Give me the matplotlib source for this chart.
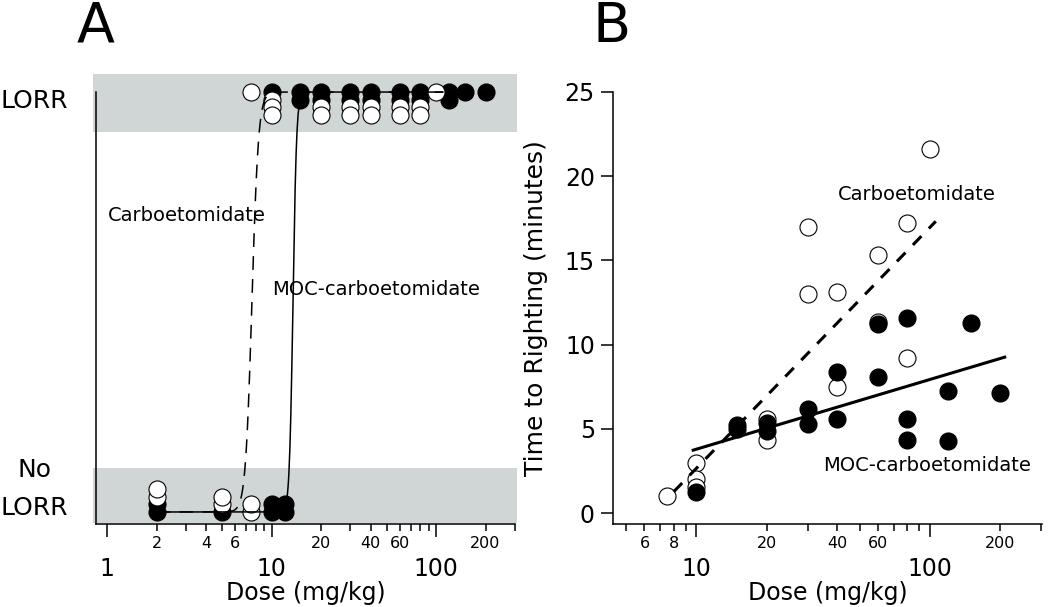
import numpy as np
import matplotlib
matplotlib.use("Agg")
import matplotlib.pyplot as plt
from matplotlib.ticker import FixedLocator, FixedFormatter

plt.rcParams['font.family'] = ['DejaVu Sans']

# ---- Panel A: LORR (1) / No LORR (0), stack = position in the pile of circles
carbo_a_dose = [2, 2, 5, 5, 7.5, 7.5, 7.5, 10, 10, 10, 20, 20, 30, 30, 40, 40, 60, 60, 80, 80, 100]
carbo_a_resp = [0, 0, 0, 0, 0, 0, 1, 1, 1, 1, 1, 1, 1, 1, 1, 1, 1, 1, 1, 1, 1]
carbo_a_stack = [2, 3, 1, 2, 0, 1, 0, 1, 2, 3, 2, 3, 2, 3, 2, 3, 2, 3, 2, 3, 0]

moc_a_dose = [2, 2, 5, 10, 10, 12, 12, 10, 15, 15, 20, 20, 30, 30, 40, 40, 60, 60, 80, 80, 120, 120, 150, 200]
moc_a_resp = [0, 0, 0, 0, 0, 0, 0, 1, 1, 1, 1, 1, 1, 1, 1, 1, 1, 1, 1, 1, 1, 1, 1, 1]
moc_a_stack = [0, 1, 0, 0, 1, 0, 1, 0, 0, 1, 0, 1, 0, 1, 0, 1, 0, 1, 0, 1, 0, 1, 0, 0]

# fitted dose-response (Hill) parameters
carbo_ec50, carbo_hill = 7.6, 22
moc_ec50, moc_hill = 13.5, 40
fit_dose_range = (2, 110)

# ---- Panel B: time to righting (minutes)
carbo_b_dose = [7.5, 10, 10, 10, 20, 20, 30, 30, 40, 40, 60, 60, 80, 80, 100]
carbo_b_time = [1.0, 3.0, 2.05, 1.55, 5.6, 4.35, 17.0, 13.0, 13.15, 7.5, 15.3, 11.35, 17.2, 9.2, 21.6]

moc_b_dose = [10, 15, 15, 20, 20, 30, 30, 40, 40, 60, 60, 80, 80, 80, 120, 120, 150, 200]
moc_b_time = [1.25, 5.2, 5.0, 5.35, 4.9, 6.2, 5.3, 8.4, 5.6, 11.2, 8.1, 11.6, 5.6, 4.35, 7.25, 4.3, 11.3, 7.15]

# regression lines: time = a + b*log10(dose)
carbo_fit = (-11.66, 14.31, 8.0, 106)
moc_fit = (-0.35, 4.14, 9.7, 209)

STACK = 0.018
MS = 150

fig = plt.figure(figsize=(10.5, 6.07), dpi=100)
axA = fig.add_axes([96 / 1050, 83 / 607, 419 / 1050, 450 / 607])
axB = fig.add_axes([613 / 1050, 83 / 607, 429 / 1050, 432 / 607])

minor_all = [2, 3, 4, 5, 6, 7, 8, 9, 20, 30, 40, 50, 60, 70, 80, 90, 200, 300]
minor_lab = {2: '2', 4: '4', 6: '6', 8: '8', 20: '20', 40: '40', 60: '60', 200: '200'}


def style_xaxis(ax, labelled):
    ax.set_xscale('log')
    ax.xaxis.set_major_locator(FixedLocator([1, 10, 100]))
    ax.xaxis.set_major_formatter(FixedFormatter(['1', '10', '100']))
    ax.xaxis.set_minor_locator(FixedLocator(minor_all))
    ax.xaxis.set_minor_formatter(FixedFormatter(
        [minor_lab[m] if m in labelled else '' for m in minor_all]))
    ax.tick_params(axis='x', which='major', length=9, width=1.1, labelsize=17, pad=15)
    ax.tick_params(axis='x', which='minor', length=5, width=1.1, labelsize=11.5, pad=4)
    for s in ['top', 'right']:
        ax.spines[s].set_visible(False)
    for s in ['left', 'bottom']:
        ax.spines[s].set_linewidth(1.1)
    ax.set_xlabel('Dose (mg/kg)', fontsize=17, labelpad=0)


# ---------------- Panel A
style_xaxis(axA, [2, 4, 6, 20, 40, 60, 200])
axA.set_xlim(0.857, 302)
axA.set_ylim(-0.0286, 1.043)
axA.spines['left'].set_bounds(-0.0286, 1.0)
axA.set_yticks([])
band = '#d0d5d5'
axA.axhspan(0.905, 1.043, xmin=-0.008, xmax=1.005, color=band, clip_on=False, zorder=0, lw=0)
axA.axhspan(-0.026, 0.105, xmin=-0.008, xmax=1.005, color=band, clip_on=False, zorder=0, lw=0)

def stacked(resp, stack):
    r = np.array(resp, float)
    st = np.array(stack, float)
    return np.where(r == 1, 1 - st * STACK, st * STACK)

axA.scatter(moc_a_dose, stacked(moc_a_resp, moc_a_stack), s=MS, c='black',
            edgecolors='black', linewidths=0.8, zorder=3, clip_on=False)
axA.scatter(carbo_a_dose, stacked(carbo_a_resp, carbo_a_stack), s=MS, c='white',
            edgecolors='black', linewidths=0.8, zorder=4, clip_on=False)

xd = np.logspace(np.log10(fit_dose_range[0]), np.log10(fit_dose_range[1]), 600)
axA.plot(xd, 1 / (1 + (carbo_ec50 / xd) ** carbo_hill), color='black', lw=1.1,
         ls=(0, (9, 6)), zorder=5)
axA.plot(xd, 1 / (1 + (moc_ec50 / xd) ** moc_hill), color='black', lw=1.1, zorder=5)

axA.text(3.06, 0.705, 'Carboetomidate', fontsize=14, ha='center', va='center')
axA.text(10.1, 0.529, 'MOC-carboetomidate', fontsize=14, ha='left', va='center')
fig.text(34 / 1050, 1 - 108 / 607, 'LORR', fontsize=18, ha='center', va='baseline')
fig.text(34 / 1050, 1 - 477 / 607, 'No', fontsize=18, ha='center', va='baseline')
fig.text(34 / 1050, 1 - 515 / 607, 'LORR', fontsize=18, ha='center', va='baseline')
fig.text(96 / 1050, 1 - 42 / 607, 'A', fontsize=40, ha='center', va='baseline')

# ---------------- Panel B
style_xaxis(axB, [6, 8, 20, 40, 60, 200])
axB.set_xlim(4.4, 302)
axB.set_ylim(-0.65, 25)
axB.set_yticks([0, 5, 10, 15, 20, 25])
axB.tick_params(axis='y', length=9, width=1.1, labelsize=17, pad=4)
axB.set_ylabel('Time to Righting (minutes)', fontsize=18)
axB.yaxis.set_label_coords(-0.152, 0.5)

axB.scatter(carbo_b_dose, carbo_b_time, s=MS, c='white', edgecolors='black',
            linewidths=0.8, zorder=3, clip_on=False)
axB.scatter(moc_b_dose, moc_b_time, s=MS, c='black', edgecolors='black',
            linewidths=0.8, zorder=4, clip_on=False)

for (a, b, x0, x1), ls in [(carbo_fit, (0, (4, 3.5))), (moc_fit, '-')]:
    xl = np.array([x0, x1])
    axB.plot(xl, a + b * np.log10(xl), color='black', lw=2.2, ls=ls, zorder=5)

axB.text(88, 18.9, 'Carboetomidate', fontsize=14, ha='center', va='center')
axB.text(97, 2.85, 'MOC-carboetomidate', fontsize=14, ha='center', va='center')
fig.text(612 / 1050, 1 - 42 / 607, 'B', fontsize=40, ha='center', va='baseline')

fig.savefig('out.png', dpi=100)
